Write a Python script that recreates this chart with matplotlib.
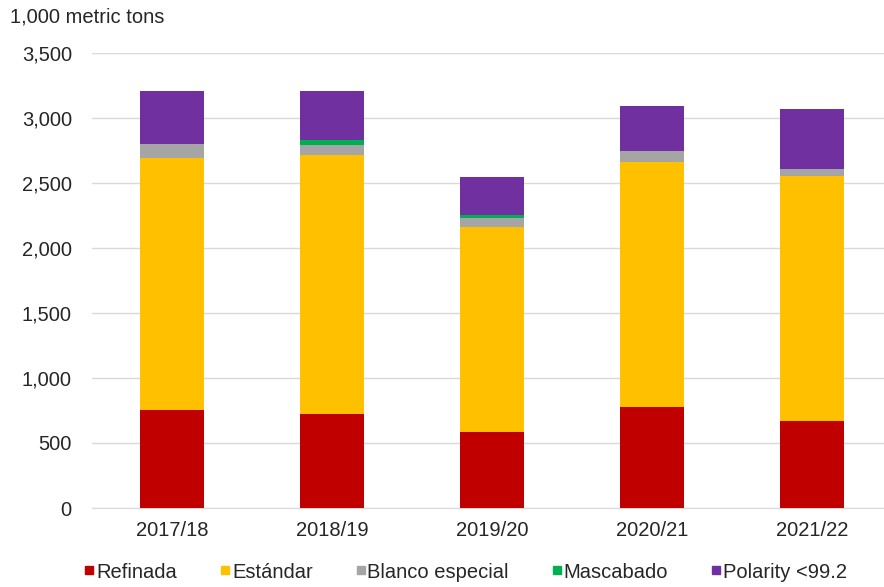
import numpy as np
import matplotlib.pyplot as plt
from matplotlib.lines import Line2D

plt.rcParams['font.family'] = ['Liberation Sans', 'DejaVu Sans']

# datos (1,000 metric tons)
years = ["2017/18", "2018/19", "2019/20", "2020/21", "2021/22"]
refinada = [754, 723, 585, 775, 670]
estandar = [1941, 1992, 1573, 1886, 1884]
blanco = [104, 79, 69, 83, 54]
mascabado = [3, 36, 28, 3, 2]
polarity = [402, 374, 289, 349, 456]

series = [
    ("Refinada", refinada, "#C00000"),
    ("Estándar", estandar, "#FFC000"),
    ("Blanco especial", blanco, "#A5A5A5"),
    ("Mascabado", mascabado, "#00B050"),
    ("Polarity <99.2", polarity, "#7030A0"),
]

fs = 14.5
fig = plt.figure(figsize=(8.84, 5.87), dpi=100)
ax = fig.add_axes([92/884, 79/587, 792/884, 455/587])

x = np.arange(len(years))
bottom = np.zeros(len(years))
for name, vals, col in series:
    ax.bar(x, vals, 0.405, bottom=bottom, color=col, zorder=3)
    bottom += np.array(vals)

ax.set_xlim(-0.5, 4.45)
ax.set_ylim(0, 3500)
ax.set_yticks(np.arange(0, 3501, 500))
ax.set_yticklabels([f"{v:,}" for v in range(0, 3501, 500)])
ax.set_xticks(x)
ax.set_xticklabels(years)
ax.tick_params(axis='both', length=0, labelsize=fs, colors='#262626')
ax.tick_params(axis='y', pad=14.5)
ax.tick_params(axis='x', pad=9)
ax.grid(axis='y', color='#d9d9d9', linewidth=1, zorder=0)
for s in ['top', 'right', 'left']:
    ax.spines[s].set_visible(False)
ax.spines['bottom'].set_color('#d9d9d9')

fig.text(10/884, 1 - 17/587, "1,000 metric tons", fontsize=fs,
         color='#262626', va='center', ha='left')

handles = [Line2D([], [], marker='s', linestyle='', color=c, markersize=6)
           for _, _, c in series]
fig.legend(handles, [n for n, _, _ in series], loc='center',
           bbox_to_anchor=(466/884, 1 - 572/587), ncol=5, frameon=False,
           fontsize=fs, handlelength=0.45, handletextpad=0.12,
           columnspacing=2.15, labelcolor='#262626')

plt.savefig("out.png", dpi=100)
